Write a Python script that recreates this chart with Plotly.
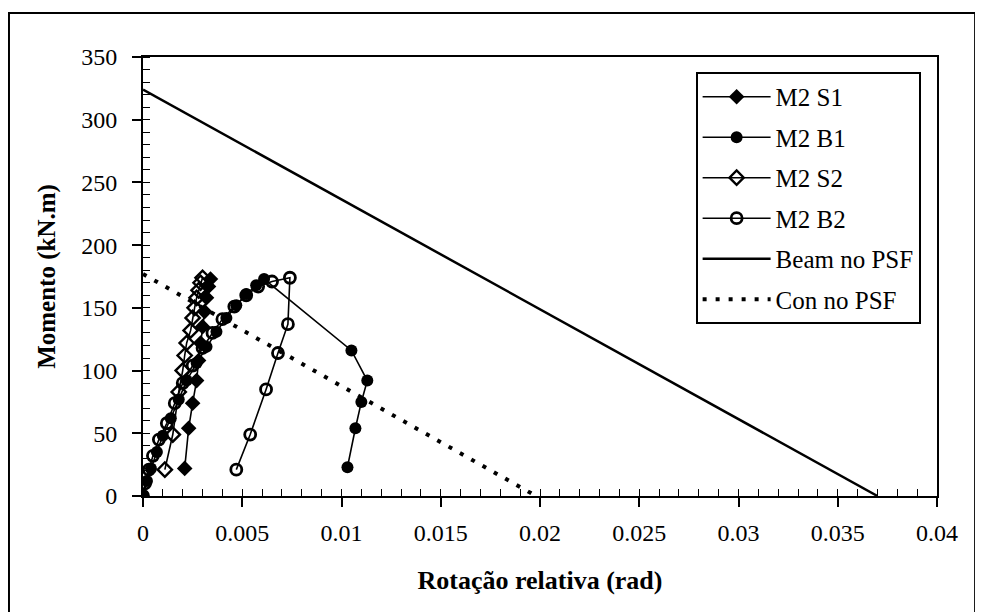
import plotly.graph_objects as go

# ---- data ----
s1_x = [0.0021, 0.0023, 0.0025, 0.0027, 0.0028, 0.0029, 0.0030, 0.0031, 0.0032, 0.0033, 0.0034]
s1_y = [22, 54, 74, 92, 108, 122, 135, 147, 158, 167, 173]

b1_x = [0.0, 0.0002, 0.0004, 0.0007, 0.0010, 0.0014, 0.0018, 0.0022, 0.0027, 0.0032, 0.0037,
        0.0042, 0.0047, 0.0052, 0.0057, 0.0061, 0.0105, 0.0113, 0.0110, 0.0107, 0.0103]
b1_y = [0, 12, 22, 35, 48, 62, 77, 92, 106, 119, 131, 142, 152, 161, 168, 173, 116, 92, 75, 54, 23]

s2_x = [0.0011, 0.0015, 0.0018, 0.0020, 0.0021, 0.0022, 0.0024, 0.0025, 0.0026, 0.0027, 0.0028, 0.0029, 0.0030]
s2_y = [21, 49, 83, 100, 112, 122, 132, 142, 150, 158, 164, 170, 174]

b2_x = [0.0, 0.0001, 0.0003, 0.0005, 0.0008, 0.0012, 0.0016, 0.0020, 0.0025, 0.0030, 0.0035,
        0.0040, 0.0046, 0.0052, 0.0058, 0.0065, 0.0074, 0.0073, 0.0068, 0.0062, 0.0054, 0.0047]
b2_y = [0, 10, 21, 32, 45, 58, 74, 90, 104, 118, 130, 141, 151, 160, 167, 171, 174, 137, 114, 85, 49, 21]

beam_x = [0.0, 0.0370]
beam_y = [324, 0]

con_x = [0.0, 0.0198]
con_y = [177, 0]

x_ticks = [0, 0.005, 0.01, 0.015, 0.02, 0.025, 0.03, 0.035, 0.04]
x_labels = ["0", "0.005", "0.01", "0.015", "0.02", "0.025", "0.03", "0.035", "0.04"]
y_ticks = [0, 50, 100, 150, 200, 250, 300, 350]

FONT = "Liberation Serif, Times New Roman, DejaVu Serif, serif"

fig = go.Figure()

fig.add_trace(go.Scatter(x=s1_x, y=s1_y, name="M2 S1", mode="lines+markers", legendgroup="a",
                         line=dict(color="black", width=1.6),
                         marker=dict(symbol="diamond", size=12, color="black")))
fig.add_trace(go.Scatter(x=b1_x, y=b1_y, name="M2 B1", mode="lines+markers", legendgroup="b",
                         line=dict(color="black", width=1.6),
                         marker=dict(symbol="circle", size=12, color="black")))
fig.add_trace(go.Scatter(x=s2_x, y=s2_y, name="M2 S2", mode="lines+markers", legendgroup="c",
                         line=dict(color="black", width=1.6),
                         marker=dict(symbol="diamond-open", size=11, color="black",
                                     line=dict(width=2.4, color="black"))))
fig.add_trace(go.Scatter(x=b2_x, y=b2_y, name="M2 B2", mode="lines+markers", legendgroup="d",
                         line=dict(color="black", width=1.6),
                         marker=dict(symbol="circle-open", size=11, color="black",
                                     line=dict(width=2.8, color="black"))))
fig.add_trace(go.Scatter(x=beam_x, y=beam_y, name="Beam no PSF", mode="lines", legendgroup="e",
                         line=dict(color="black", width=2.5)))
fig.add_trace(go.Scatter(x=con_x, y=con_y, name="Con no PSF", mode="lines", legendgroup="f",
                         line=dict(color="black", width=4, dash="4px,9px")))

fig.update_layout(
    width=975, height=604,
    margin=dict(l=135, r=46, t=49, b=116),
    paper_bgcolor="white", plot_bgcolor="white",
    font=dict(family=FONT, size=20, color="black"),
    showlegend=True,
    legend=dict(x=0.696, y=0.966, xanchor="left", yanchor="top",
                bgcolor="white", bordercolor="black", borderwidth=2,
                font=dict(family=FONT, size=25, color="black"),
                itemwidth=68, tracegroupgap=5, traceorder="grouped"),
    xaxis=dict(range=[0, 0.04], tickvals=x_ticks, ticktext=x_labels,
               showgrid=False, zeroline=False, showline=True, linewidth=2, linecolor="black",
               mirror=True, ticks="outside", ticklen=9, tickwidth=1.5, tickcolor="black",
               ticklabelstandoff=5,
               minor=dict(dtick=0.001, ticks="inside", ticklen=7, tickwidth=1.2, tickcolor="black"),
               tickfont=dict(family=FONT, size=24),
               title=dict(text="<b>Rotação relativa (rad)</b>", font=dict(family=FONT, size=26),
                          standoff=26)),
    yaxis=dict(range=[0, 350], tickvals=y_ticks,
               showgrid=False, zeroline=False, showline=True, linewidth=2, linecolor="black",
               mirror=True, ticks="outside", ticklen=9, tickwidth=1.5, tickcolor="black",
               ticklabelstandoff=10,
               minor=dict(dtick=10, ticks="inside", ticklen=7, tickwidth=1.2, tickcolor="black"),
               tickfont=dict(family=FONT, size=24),
               title=dict(text="<b>Momento (kN.m)</b>", font=dict(family=FONT, size=25),
                          standoff=18)),
)

# outer frame of the figure
fig.add_shape(type="rect", xref="paper", yref="paper",
              x0=-0.1688, x1=1.048, y0=-0.35, y1=1.100,
              line=dict(color="black", width=2), fillcolor="rgba(0,0,0,0)", layer="below")

fig.write_html("out.html")
